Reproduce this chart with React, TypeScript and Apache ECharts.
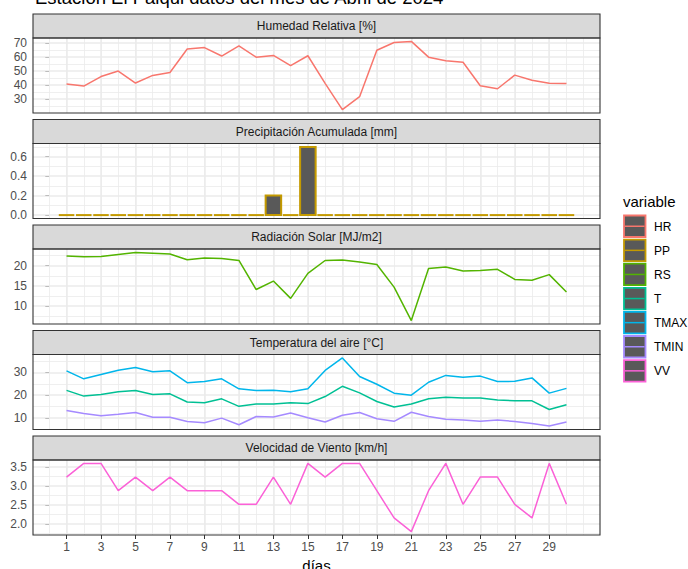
import React, { useEffect, useRef } from 'react';
import * as echarts from 'echarts';

const days = [1, 2, 3, 4, 5, 6, 7, 8, 9, 10, 11, 12, 13, 14, 15, 16, 17, 18, 19, 20, 21, 22, 23, 24, 25, 26, 27, 28, 29, 30];
const HR = [40.7, 39.2, 46.0, 49.9, 41.4, 46.8, 48.9, 65.6, 66.6, 60.6, 67.8, 59.8, 61.0, 53.8, 60.8, 41.2, 22.5, 31.7, 64.7, 70.2, 71.0, 59.8, 57.2, 56.2, 39.5, 37.3, 47.0, 43.4, 41.2, 41.0];
const PP = [0, 0, 0, 0, 0, 0, 0, 0, 0, 0, 0, 0, 0.2, 0, 0.7, 0, 0, 0, 0, 0, 0, 0, 0, 0, 0, 0, 0, 0, 0, 0];
const RS = [22.4, 22.2, 22.3, 22.8, 23.3, 23.1, 22.9, 21.5, 21.9, 21.8, 21.3, 14.1, 16.2, 11.9, 18.1, 21.3, 21.4, 20.9, 20.3, 14.7, 6.4, 19.3, 19.7, 18.7, 18.8, 19.1, 16.6, 16.4, 17.8, 13.5];
const TMAX = [30.7, 27.2, 29.1, 31.0, 32.2, 30.3, 30.7, 25.5, 26.0, 27.2, 22.8, 22.1, 22.2, 21.5, 22.8, 30.9, 36.4, 28.2, 24.8, 20.9, 20.0, 25.7, 28.7, 27.9, 28.4, 26.0, 26.1, 27.6, 20.9, 23.0];
const T = [22.1, 19.6, 20.3, 21.5, 22.1, 20.3, 20.6, 17.0, 16.7, 18.4, 15.1, 16.1, 16.1, 16.7, 16.3, 19.4, 23.9, 21.0, 17.2, 14.8, 16.1, 18.4, 19.1, 18.8, 18.8, 17.9, 17.5, 17.5, 13.7, 15.8];
const TMIN = [13.3, 11.9, 10.9, 11.6, 12.4, 10.3, 10.3, 8.4, 7.9, 9.9, 7.0, 10.6, 10.4, 12.2, 10.1, 8.2, 11.2, 12.4, 9.6, 8.5, 12.5, 10.6, 9.4, 9.1, 8.5, 9.1, 8.4, 7.5, 6.4, 8.2];
const VV = [3.24, 3.6, 3.6, 2.88, 3.24, 2.88, 3.24, 2.88, 2.88, 2.88, 2.52, 2.52, 3.24, 2.52, 3.6, 3.24, 3.6, 3.6, 2.88, 2.16, 1.8, 2.88, 3.6, 2.52, 3.24, 3.24, 2.52, 2.16, 3.6, 2.52];

const xBreaks = [1, 3, 5, 7, 9, 11, 13, 15, 17, 19, 21, 23, 25, 27, 29];
const xMinorBreaks = [0, 1, 2, 3, 4, 5, 6, 7, 8, 9, 10, 11, 12, 13, 14, 15, 16, 17, 18, 19, 20, 21, 22, 23, 24, 25, 26, 27, 28, 29, 30, 31];

const titleText = 'Estación El Palqui datos del mes de Abril de 2024';
const xTitle = 'días';
const legendTitle = 'variable';
const legendLabels = ['HR', 'PP', 'RS', 'T', 'TMAX', 'TMIN', 'VV'];
const legendColors = ['#F8766D', '#C49A00', '#53B400', '#00C094', '#00B6EB', '#A58AFF', '#FB61D7'];

const panelTitles = ['Humedad Relativa [%]', 'Precipitación Acumulada [mm]', 'Radiación Solar [MJ/m2]', 'Temperatura del aire [°C]', 'Velocidad de Viento [km/h]'];
const yBreaksHR = [30, 40, 50, 60, 70];
const yMinorHR = [25, 35, 45, 55, 65];
const yBreaksPP = [0, 0.2, 0.4, 0.6];
const yMinorPP = [0.1, 0.3, 0.5, 0.7];
const yBreaksRS = [10, 15, 20];
const yMinorRS = [7.5, 12.5, 17.5, 22.5];
const yBreaksTemp = [10, 20, 30];
const yMinorTemp = [5, 15, 25, 35];
const yBreaksVV = [2.0, 2.5, 3.0, 3.5];
const yMinorVV = [1.75, 2.25, 2.75, 3.25];

const FONT = 'Liberation Sans, Arial, sans-serif';

type Panel = {
  title: string;
  lines: { name: string; values: number[]; color: string }[];
  bars?: { values: number[]; color: string };
  majors: number[];
  minors: number[];
  decimals: number;
  includeZero?: boolean;
};

const panels: Panel[] = [
  { title: panelTitles[0], lines: [{ name: 'HR', values: HR, color: legendColors[0] }], majors: yBreaksHR, minors: yMinorHR, decimals: 0 },
  { title: panelTitles[1], lines: [], bars: { values: PP, color: legendColors[1] }, majors: yBreaksPP, minors: yMinorPP, decimals: 1, includeZero: true },
  { title: panelTitles[2], lines: [{ name: 'RS', values: RS, color: legendColors[2] }], majors: yBreaksRS, minors: yMinorRS, decimals: 0 },
  {
    title: panelTitles[3],
    lines: [
      { name: 'T', values: T, color: legendColors[3] },
      { name: 'TMAX', values: TMAX, color: legendColors[4] },
      { name: 'TMIN', values: TMIN, color: legendColors[5] },
    ],
    majors: yBreaksTemp, minors: yMinorTemp, decimals: 0,
  },
  { title: panelTitles[4], lines: [{ name: 'VV', values: VV, color: legendColors[6] }], majors: yBreaksVV, minors: yMinorVV, decimals: 1 },
];

const LEFT = 33;
const RIGHT = 600;
const FIRST_TOP = 14;
const STRIP_H = 24;
const PLOT_H = 75;
const STEP = 105.5;
const BAR_W = 0.9;

export default function App() {
  const ref = useRef<HTMLDivElement>(null);
  useEffect(() => {
    if (!ref.current) return;
    const chart = echarts.init(ref.current, undefined, { renderer: 'svg' });

    const lo = days[0] - BAR_W / 2;
    const hi = days[days.length - 1] + BAR_W / 2;
    const xMin = lo - 0.05 * (hi - lo);
    const xMax = hi + 0.05 * (hi - lo);

    const ranges = panels.map((p) => {
      let all: number[] = [];
      p.lines.forEach((l) => (all = all.concat(l.values)));
      if (p.bars) all = all.concat(p.bars.values);
      if (p.includeZero) all.push(0);
      const mn = Math.min(...all);
      const mx = Math.max(...all);
      const pad = 0.05 * (mx - mn);
      return [mn - pad, mx + pad];
    });

    const grid = panels.map((_, i) => ({
      left: LEFT, width: RIGHT - LEFT, top: FIRST_TOP + i * STEP + STRIP_H, height: PLOT_H, show: false,
    }));

    const last = panels.length - 1;
    const xAxis = panels.map((_, i) => ({
      type: 'value', gridIndex: i, min: xMin, max: xMax,
      splitLine: { show: false }, axisLine: { show: false },
      axisTick: i === last ? { show: true, customValues: xBreaks, length: 4, lineStyle: { color: '#333333', width: 1 } } : { show: false },
      axisLabel: i === last ? { show: true, customValues: xBreaks, color: '#4D4D4D', fontSize: 12, margin: 6, fontFamily: FONT } : { show: false },
    }));

    const yAxis = panels.map((p, i) => ({
      type: 'value', gridIndex: i, min: ranges[i][0], max: ranges[i][1],
      splitLine: { show: false }, axisLine: { show: false },
      axisTick: { show: true, customValues: p.majors, length: 4, lineStyle: { color: '#333333', width: 1 } },
      axisLabel: { show: true, customValues: p.majors, color: '#4D4D4D', fontSize: 12, margin: 6, fontFamily: FONT, formatter: (v: number) => v.toFixed(p.decimals) },
    }));

    const series: any[] = [];
    panels.forEach((p, i) => {
      const minorStyle = { color: '#EBEBEB', width: 0.8, type: 'solid' };
      const majorStyle = { color: '#EBEBEB', width: 1.5, type: 'solid' };
      const mlData: any[] = [];
      xMinorBreaks.forEach((v) => mlData.push({ xAxis: v, lineStyle: minorStyle }));
      p.minors.forEach((v) => { if (v > ranges[i][0] && v < ranges[i][1]) mlData.push({ yAxis: v, lineStyle: minorStyle }); });
      xBreaks.forEach((v) => mlData.push({ xAxis: v, lineStyle: majorStyle }));
      p.majors.forEach((v) => mlData.push({ yAxis: v, lineStyle: majorStyle }));
      series.push({
        type: 'line', xAxisIndex: i, yAxisIndex: i, z: 1, silent: true,
        data: days.map((d) => [d, ranges[i][0]]),
        showSymbol: false, lineStyle: { opacity: 0 },
        markLine: { z: 1, silent: true, symbol: ['none', 'none'], label: { show: false }, animation: false, emphasis: { disabled: true }, data: mlData },
      });
      if (p.bars) {
        const bars = p.bars;
        series.push({
          type: 'custom', xAxisIndex: i, yAxisIndex: i, z: 10,
          data: days.map((d, k) => [d, bars.values[k]]),
          encode: { x: 0, y: 1 },
          renderItem: (params: any, api: any) => {
            const x = api.value(0);
            const v = api.value(1);
            const p0 = api.coord([x - BAR_W / 2, 0]);
            const p1 = api.coord([x + BAR_W / 2, v]);
            if (v === 0) {
              return { type: 'line', shape: { x1: p0[0], y1: p0[1], x2: p1[0], y2: p0[1] }, style: { stroke: bars.color, lineWidth: 2 } };
            }
            return {
              type: 'rect',
              shape: { x: p0[0], y: p1[1], width: p1[0] - p0[0], height: p0[1] - p1[1] },
              style: { fill: '#595959', stroke: bars.color, lineWidth: 2 },
            };
          },
        });
      }
      p.lines.forEach((l) => {
        series.push({
          type: 'line', name: l.name, xAxisIndex: i, yAxisIndex: i, z: 10,
          data: days.map((d, k) => [d, l.values[k]]),
          showSymbol: false, symbol: 'none',
          lineStyle: { color: l.color, width: 1.5 },
        });
      });
    });

    const graphic: any[] = [];
    graphic.push({
      type: 'text', x: 35, y: 7, z: 100,
      style: { text: titleText, font: `18.5px ${FONT}`, fill: '#000000', align: 'left', verticalAlign: 'bottom' },
    });
    panels.forEach((p, i) => {
      const top = FIRST_TOP + i * STEP;
      graphic.push({
        type: 'rect', z: 100, shape: { x: LEFT, y: top, width: RIGHT - LEFT, height: STRIP_H },
        style: { fill: '#D9D9D9', stroke: '#333333', lineWidth: 1.1 },
      });
      graphic.push({
        type: 'text', z: 101, x: (LEFT + RIGHT) / 2, y: top + STRIP_H / 2,
        style: { text: p.title, font: `12px ${FONT}`, fill: '#1A1A1A', align: 'center', verticalAlign: 'middle' },
      });
      graphic.push({
        type: 'rect', z: 100, shape: { x: LEFT, y: top + STRIP_H, width: RIGHT - LEFT, height: PLOT_H },
        style: { fill: 'none', stroke: '#333333', lineWidth: 1.1 },
      });
    });
    graphic.push({
      type: 'text', z: 100, x: (LEFT + RIGHT) / 2, y: 565,
      style: { text: xTitle, font: `15px ${FONT}`, fill: '#000000', align: 'center', verticalAlign: 'middle' },
    });
    graphic.push({
      type: 'text', z: 100, x: 623, y: 201,
      style: { text: legendTitle, font: `15px ${FONT}`, fill: '#000000', align: 'left', verticalAlign: 'middle' },
    });
    legendLabels.forEach((lab, k) => {
      const y = 215 + k * 24.1;
      const c = legendColors[k];
      graphic.push({
        type: 'rect', z: 100, shape: { x: 624, y: y + 0.5, width: 21.5, height: 21.5 },
        style: { fill: '#595959', stroke: c, lineWidth: 1.8 },
      });
      graphic.push({
        type: 'line', z: 101, shape: { x1: 625, y1: y + 11.25, x2: 644.5, y2: y + 11.25 },
        style: { stroke: c, lineWidth: 1.5 },
      });
      graphic.push({
        type: 'text', z: 100, x: 654, y: y + 11.5,
        style: { text: lab, font: `12px ${FONT}`, fill: '#000000', align: 'left', verticalAlign: 'middle' },
      });
    });

    chart.setOption({
      animation: false,
      backgroundColor: '#FFFFFF',
      textStyle: { fontFamily: FONT },
      grid, xAxis, yAxis, series, graphic,
    });
    return () => chart.dispose();
  }, []);
  return <div ref={ref} style={{ position: 'absolute', left: 0, top: 0, width: 688, height: 569 }} />;
}
